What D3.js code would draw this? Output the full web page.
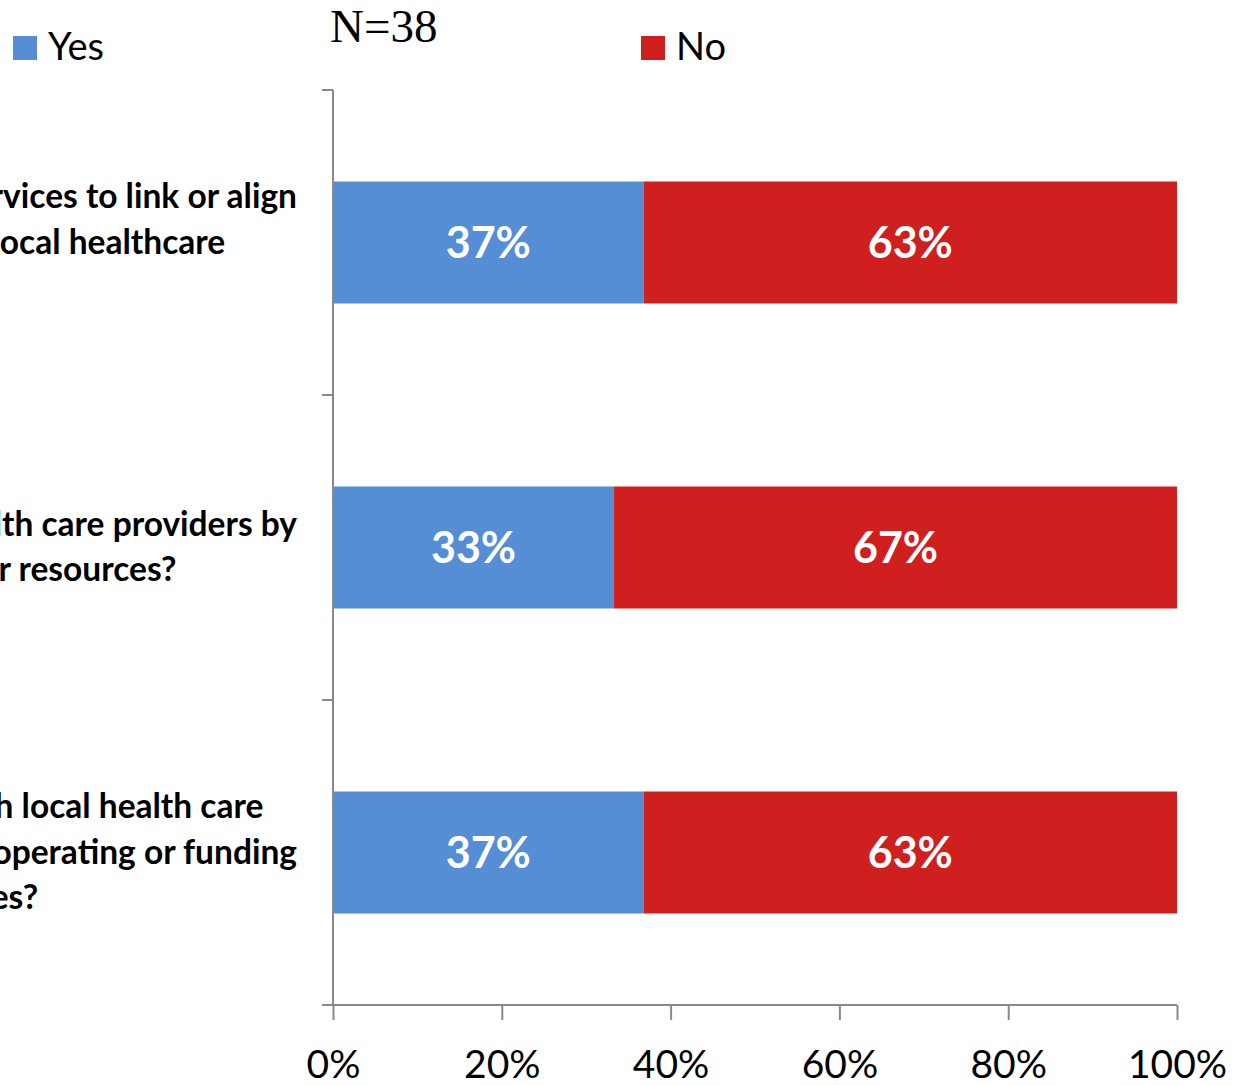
<!DOCTYPE html>
<html>
<head>
<meta charset="utf-8">
<script src="https://cdnjs.cloudflare.com/ajax/libs/d3/7.8.5/d3.min.js"></script>
<style>
  html, body { margin: 0; padding: 0; background: #fff; overflow: hidden; }
  svg { display: block; }
</style>
</head>
<body>
<svg id="chart" width="1249" height="1085"></svg>
<script>
// questions (wrapped lines, centred; the left part falls outside the picture as in the original)
const questions = [
  ['Does your department coordinate services to link or align', 'its programs and activities with local healthcare', 'providers?'],
  ['Does your department support local health care providers by', 'sharing staff, equipment, or other resources?'],
  ['Do you cooperate with local health care', 'organizations by jointly operating or funding', 'facilities?']
];
const seriesNames = ['Yes', 'No'];
const seriesColors = ['#558ed5', '#d01f1f'];
const yesValues = [0.368, 0.333, 0.368];
const noValues = [0.632, 0.667, 0.632];
const tickValues = [0, 0.2, 0.4, 0.6, 0.8, 1];
const sampleNote = 'N=38';

const svg = d3.select('#chart');
const margin = { top: 90, left: 333, right: 72, bottom: 80 };
const W = +svg.attr('width'), H = +svg.attr('height');

const x = d3.scaleLinear().domain([0, 1]).range([margin.left, W - margin.right]);
const y = d3.scaleBand()
  .domain(d3.range(questions.length))
  .range([margin.top, H - margin.bottom])
  .paddingInner(0.6)
  .paddingOuter(0.3);

const rows = questions.map((q, i) => ({ i, yes: yesValues[i], no: noValues[i] }));
const stack = d3.stack().keys(['yes', 'no'])(rows);
const pct = d3.format('.0%');
const axisColor = '#898989';

// bars
const layer = svg.selectAll('g.layer')
  .data(stack)
  .enter().append('g')
    .attr('class', 'layer')
    .attr('fill', (d, k) => seriesColors[k]);

layer.selectAll('rect')
  .data(d => d)
  .enter().append('rect')
    .attr('x', d => x(d[0]))
    .attr('y', d => y(d.data.i))
    .attr('width', d => x(d[1]) - x(d[0]))
    .attr('height', y.bandwidth());

layer.selectAll('text')
  .data(d => d)
  .enter().append('text')
    .attr('x', d => (x(d[0]) + x(d[1])) / 2)
    .attr('y', d => y(d.data.i) + y.bandwidth() / 2)
    .attr('dy', '0.36em')
    .attr('text-anchor', 'middle')
    .attr('fill', '#fff')
    .style('font-family', 'Lato, sans-serif')
    .style('font-weight', 'bold')
    .style('font-size', '43px')
    .text(d => pct(d[1] - d[0]));

// x axis
const xAxis = svg.append('g')
  .attr('transform', `translate(0,${H - margin.bottom})`)
  .call(d3.axisBottom(x).tickValues(tickValues).tickFormat(pct).tickSizeOuter(0).tickSize(15).tickPadding(30));
xAxis.select('.domain').attr('stroke', axisColor).attr('stroke-width', 2)
  .attr('d', `M${margin.left - 11},0H${W - margin.right}`);
xAxis.selectAll('.tick line').attr('stroke', axisColor).attr('stroke-width', 2);
xAxis.selectAll('.tick text')
  .attr('fill', '#000')
  .style('font-family', 'Lato, sans-serif')
  .style('font-size', '39px');

// y axis line with ticks at category boundaries
const step = y.step();
const bounds = d3.range(questions.length + 1).map(k => margin.top + k * step);
svg.append('line')
  .attr('x1', margin.left).attr('x2', margin.left)
  .attr('y1', margin.top).attr('y2', H - margin.bottom)
  .attr('stroke', axisColor).attr('stroke-width', 2);
svg.selectAll('line.ytick')
  .data(bounds)
  .enter().append('line')
    .attr('class', 'ytick')
    .attr('x1', margin.left - 11).attr('x2', margin.left)
    .attr('y1', d => d).attr('y2', d => d)
    .attr('stroke', axisColor).attr('stroke-width', 2);

// category labels: lines centred, longest line ends just left of the axis
const lineH = 45.5;
const labelRight = 297;
svg.selectAll('text.cat')
  .data(questions)
  .enter().append('text')
    .attr('class', 'cat')
    .attr('text-anchor', 'middle')
    .style('font-family', 'Lato, sans-serif')
    .style('font-weight', 'bold')
    .style('font-size', '33.5px')
    .attr('fill', '#000')
    .each(function(lines, i) {
      const cy = y(i) + y.bandwidth() / 2 + 11;
      const top = cy - (lines.length - 1) * lineH / 2;
      const spans = d3.select(this).selectAll('tspan')
        .data(lines)
        .enter().append('tspan')
          .attr('y', (l, k) => top + k * lineH)
          .text(l => l);
      const wmax = d3.max(spans.nodes(), n => n.getComputedTextLength());
      spans.attr('x', labelRight - wmax / 2);
    });

// legend
const legendX = [13, 641];
const lg = svg.selectAll('g.legend')
  .data(seriesNames)
  .enter().append('g')
    .attr('class', 'legend')
    .attr('transform', (d, k) => `translate(${legendX[k]},36)`);
lg.append('rect')
  .attr('width', 24).attr('height', 24)
  .attr('fill', (d, k) => seriesColors[k]);
lg.append('text')
  .attr('x', 35)
  .attr('y', 24)
  .style('font-family', 'Lato, sans-serif')
  .style('font-size', '38px')
  .attr('fill', '#000')
  .text(d => d);

// sample size
svg.append('text')
  .attr('x', 330).attr('y', 42)
  .style('font-family', '"Liberation Serif", serif')
  .style('font-size', '47px')
  .attr('fill', '#000')
  .text(sampleNote);
</script>
</body>
</html>
